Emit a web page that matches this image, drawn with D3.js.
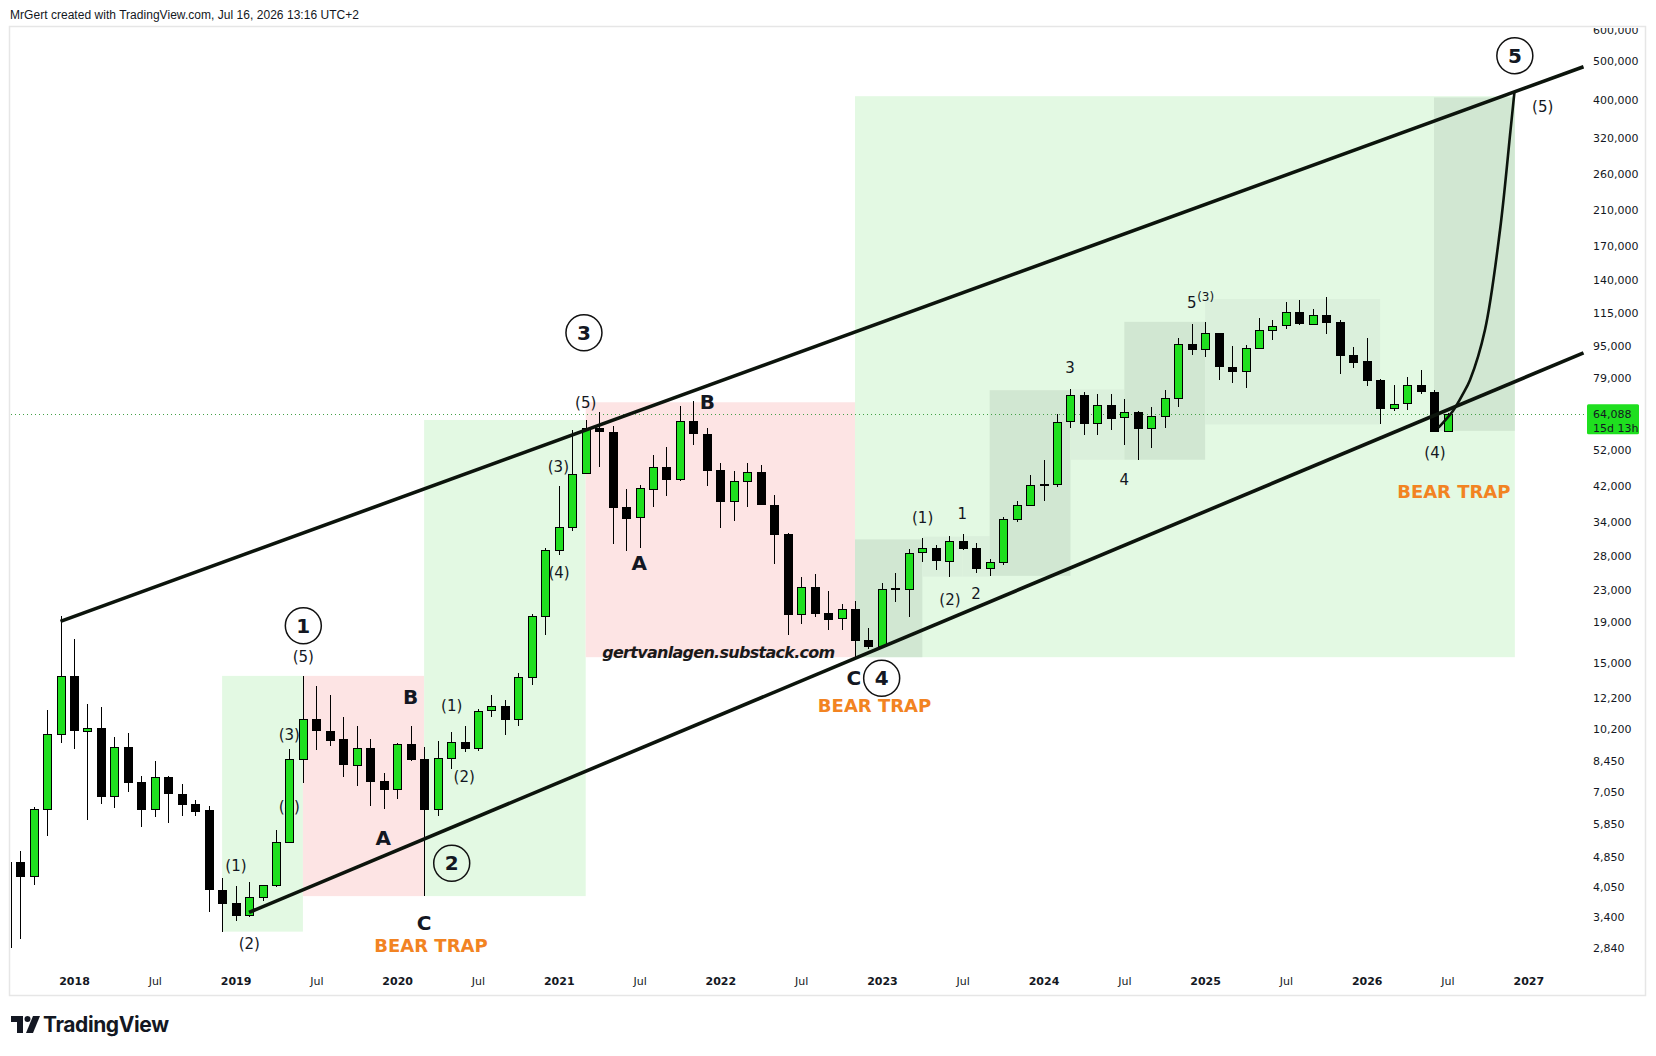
<!DOCTYPE html>
<html>
<head>
<meta charset="utf-8">
<title>BTC monthly - wave count</title>
<script src="https://cdn.jsdelivr.net/npm/d3@7"></script>
<style>
  body { margin: 0; background: #fff; }
  svg text { font-family: "DejaVu Sans", Verdana, sans-serif; fill: #131722; }
</style>
</head>
<body>
<svg id="chart" width="1656" height="1056"></svg>
<script>
// month index: 0 = Jan 2018, candles run from Aug 2017 (-5) to Jul 2026 (102)
const monthIdx = d3.range(-5, 103);

const opens = [2871, 4703, 4339, 6400, 9900,
  13850, 10100, 10250, 6900, 9200, 7500, 6400, 7700, 7000, 6600, 6350, 4000,
  3700, 3440, 3820, 4100, 5280, 8550, 10800, 10100, 9600, 8300, 9150, 7550,
  7200, 9350, 8550, 6400, 8600, 9450, 9150, 11350, 11650, 10780, 13800, 19700,
  28950, 33100, 45200, 58800, 57700, 37300, 35000, 41500, 47100, 43800, 61300, 57000,
  46200, 38500, 43200, 45500, 37700, 31800, 19900, 23300, 20050, 19400, 20500, 17150,
  16550, 23130, 23150, 28500, 29250, 27200, 30500, 29250, 26050, 26950, 34650, 37700,
  42250, 42500, 61150, 71300, 60650, 67500, 62700, 64600, 58950, 63300, 70200, 96400,
  93400, 102400, 84350, 82550, 94200, 104600, 107150, 115750, 108250, 114050, 109600, 90400,
  87000, 78100, 66500, 67900, 75600, 72800, 58100];

const highs = [4736, 5014, 6470, 11400, 19700,
  17200, 11800, 11600, 9750, 9950, 7750, 8450, 7750, 7400, 6750, 6500, 4270,
  4080, 4180, 4100, 5650, 9050, 13900, 13100, 12400, 10950, 10400, 9600, 7900,
  9400, 10350, 9200, 9500, 10050, 10400, 11450, 12450, 12050, 14100, 19900, 29300,
  41950, 58350, 61800, 64900, 59600, 41300, 42400, 50500, 52900, 67000, 69000, 59100,
  48000, 45800, 48200, 47400, 40000, 32000, 24700, 25200, 22800, 21100, 21450, 18400,
  23950, 25250, 29200, 31000, 29850, 31400, 31800, 30200, 27500, 35000, 38450, 44750,
  48950, 64000, 73800, 72800, 71950, 72000, 70000, 65100, 66500, 73600, 99800, 108300,
  109400, 102500, 95000, 95750, 111900, 110500, 123200, 124500, 117900, 126200, 110600, 94700,
  99600, 78500, 75600, 79500, 82900, 73500, 64300];

const lows = [2580, 2990, 4110, 5450, 9400,
  9100, 6000, 6600, 6450, 7050, 5750, 6100, 5900, 6150, 6150, 3500, 3130,
  3330, 3400, 3740, 4050, 5250, 7450, 9000, 9250, 7700, 7300, 6500, 6400,
  6800, 8450, 3850, 6150, 8100, 8900, 8950, 10950, 9850, 10380, 13200, 17600,
  28100, 32300, 45000, 47000, 30000, 28800, 29300, 37300, 39600, 43300, 53300, 42000,
  32900, 34300, 37200, 37600, 26700, 17600, 18800, 19600, 18150, 18200, 15500, 16300,
  16500, 21400, 19550, 26950, 25800, 24800, 28900, 25300, 24900, 26550, 34100, 37600,
  38500, 41880, 59000, 56500, 56550, 58400, 53500, 49000, 52550, 58900, 66800, 90500,
  89200, 78200, 76600, 74500, 93400, 98200, 105100, 107300, 107300, 102000, 80600, 83800,
  75300, 60200, 65000, 65600, 72000, 58000, 57900];

const closes = [4703, 4339, 6400, 9900, 13850,
  10100, 10250, 6900, 9200, 7500, 6400, 7700, 7000, 6600, 6350, 4000, 3700,
  3440, 3820, 4100, 5280, 8550, 10800, 10100, 9600, 8300, 9150, 7550, 7200,
  9350, 8550, 6400, 8600, 9450, 9150, 11350, 11650, 10780, 13800, 19700, 28950,
  33100, 45200, 58800, 57700, 37300, 35000, 41500, 47100, 43800, 61300, 57000, 46200,
  38500, 43200, 45500, 37700, 31800, 19900, 23300, 20050, 19400, 20500, 17150, 16550,
  23130, 23150, 28500, 29250, 27200, 30500, 29250, 26050, 26950, 34650, 37700, 42250,
  42500, 61150, 71300, 60650, 67500, 62700, 64600, 58950, 63300, 70200, 96400, 93400,
  102400, 84350, 82550, 94200, 104600, 107150, 115750, 108250, 114050, 109600, 90400, 87000,
  78100, 66500, 67900, 75600, 72800, 58100, 64088];

const lastPrice = 64088;
const countdown = "15d 13h";

const priceTicks = [600000, 500000, 400000, 320000, 260000, 210000, 170000, 140000, 115000,
  95000, 79000, 52000, 42000, 34000, 28000, 23000, 19000, 15000, 12200, 10200, 8450, 7050,
  5850, 4850, 4050, 3400, 2840];

const timeTicks = [0, 6, 12, 18, 24, 30, 36, 42, 48, 54, 60, 66, 72, 78, 84, 90, 96, 102, 108];
const timeLabels = ["2018", "Jul", "2019", "Jul", "2020", "Jul", "2021", "Jul", "2022", "Jul",
  "2023", "Jul", "2024", "Jul", "2025", "Jul", "2026", "Jul", "2027"];

// shaded boxes: month span and price span
const zones = [
  {t0: 11, t1: 17, lo: 3130, hi: 13900, kind: "up"},
  {t0: 17, t1: 26, lo: 3850, hi: 13900, kind: "down"},
  {t0: 26, t1: 38, lo: 3850, hi: 61800, kind: "up"},
  {t0: 38, t1: 58, lo: 15500, hi: 68500, kind: "down"},
  {t0: 58, t1: 107, lo: 15500, hi: 408000, kind: "up"},
  {t0: 58, t1: 63, lo: 15500, hi: 30800, kind: "impulse"},
  {t0: 63, t1: 66, lo: 24800, hi: 31300, kind: "correction"},
  {t0: 66, t1: 68, lo: 24800, hi: 31400, kind: "correction"},
  {t0: 68, t1: 74, lo: 24900, hi: 73500, kind: "impulse"},
  {t0: 74, t1: 78, lo: 49000, hi: 73800, kind: "correction"},
  {t0: 78, t1: 84, lo: 49000, hi: 109500, kind: "impulse"},
  {t0: 84, t1: 97, lo: 60200, hi: 125000, kind: "correction"},
  {t0: 101, t1: 107, lo: 58000, hi: 405000, kind: "impulse"}
];

const channelTop = [{t: -1, p: 19100}, {t: 112.1, p: 484500}];
const channelBottom = [{t: 13, p: 3500}, {t: 112.1, p: 91400}];

const wave5Path = [
  {t: 101.33, p: 59100}, {t: 102.4, p: 65100}, {t: 103.17, p: 72150}, {t: 103.67, p: 78000},
  {t: 104.78, p: 104400}, {t: 105.9, p: 187000}, {t: 106.68, p: 334900}, {t: 106.97, p: 418000}
];

const circled = [
  {t: 17.03, p: 18620, text: "1"},
  {t: 28.05, p: 4662, text: "2"},
  {t: 37.87, p: 102750, text: "3"},
  {t: 59.98, p: 13706, text: "4"},
  {t: 107.0, p: 516600, text: "5"}
];

const labels = [
  {t: 12.03, p: 4590, text: "(1)", kind: "sub"},
  {t: 13.02, p: 2912, text: "(2)", kind: "sub"},
  {t: 15.99, p: 9848, text: "(3)", kind: "sub"},
  {t: 15.99, p: 6485, text: "(4)", kind: "sub"},
  {t: 17.03, p: 15520, text: "(5)", kind: "sub"},
  {t: 22.97, p: 5411, text: "A", kind: "abc"},
  {t: 25.0, p: 12312, text: "B", kind: "abc"},
  {t: 25.99, p: 3287, text: "C", kind: "abc"},
  {t: 26.51, p: 2879, text: "BEAR TRAP", kind: "trap"},
  {t: 28.05, p: 11660, text: "(1)", kind: "sub"},
  {t: 28.98, p: 7696, text: "(2)", kind: "sub"},
  {t: 35.97, p: 47060, text: "(3)", kind: "sub"},
  {t: 36.02, p: 25280, text: "(4)", kind: "sub"},
  {t: 38.0, p: 68120, text: "(5)", kind: "sub"},
  {t: 41.98, p: 26790, text: "A", kind: "abc"},
  {t: 47.03, p: 68750, text: "B", kind: "abc"},
  {t: 47.88, p: 15910, text: "gertvanlagen.substack.com", kind: "site"},
  {t: 57.92, p: 13706, text: "C", kind: "abc"},
  {t: 59.45, p: 11700, text: "BEAR TRAP", kind: "trap"},
  {t: 63.02, p: 34840, text: "(1)", kind: "sub"},
  {t: 65.05, p: 21630, text: "(2)", kind: "sub"},
  {t: 65.97, p: 35720, text: "1", kind: "minor"},
  {t: 66.98, p: 22400, text: "2", kind: "minor"},
  {t: 73.97, p: 83520, text: "3", kind: "minor"},
  {t: 78.0, p: 43560, text: "4", kind: "minor"},
  {t: 83.0, p: 121960, text: "5", kind: "minor"},
  {t: 84.04, p: 126750, text: "(3)", kind: "sup"},
  {t: 101.07, p: 51060, text: "(4)", kind: "sub"},
  {t: 109.07, p: 383700, text: "(5)", kind: "sub"},
  {t: 102.47, p: 40680, text: "BEAR TRAP", kind: "trap"}
];

// ---- drawing ----
const W = 1656, H = 1056;
const plot = {left: 11, right: 1585, top: 27, bottom: 966};
const upColor = "#1fdf1f";
const zoneFill = {up: "#e3f9e3", down: "#fde4e4", impulse: "#d1e7d2", correction: "#dbf0dc"};
const labelStyle = {
  sub:   {size: 15, weight: "normal", fill: "#131722"},
  minor: {size: 15, weight: "normal", fill: "#131722"},
  sup:   {size: 12, weight: "normal", fill: "#131722"},
  abc:   {size: 20, weight: "bold", fill: "#131722"},
  trap:  {size: 18, weight: "bold", fill: "#f28322"},
  site:  {size: 16, weight: "bold", fill: "#1a1a1a"}
};

const x = d3.scaleLinear().domain([0, 108]).range([74, 1528.3]);
const y = d3.scaleLog().domain([500000, 2840]).range([61.3, 948.3]);

const svg = d3.select("#chart");
svg.append("rect").attr("width", W).attr("height", H).attr("fill", "#fff");

const defs = svg.append("defs");
defs.append("clipPath").attr("id", "plotClip").append("rect")
    .attr("x", plot.left).attr("y", plot.top)
    .attr("width", plot.right - plot.left).attr("height", plot.bottom - plot.top);
defs.append("clipPath").attr("id", "frameClip").append("rect")
    .attr("x", 10).attr("y", 28).attr("width", 1635).attr("height", 967);

// header
svg.append("text")
    .attr("x", 10).attr("y", 19)
    .attr("font-size", 12)
    .style("font-family", "'Liberation Sans', Arial, sans-serif")
    .attr("textLength", 349)
    .text("MrGert created with TradingView.com, Jul 16, 2026 13:16 UTC+2");

// frame
svg.append("rect")
    .attr("x", 9.5).attr("y", 26.5).attr("width", 1636).attr("height", 969)
    .attr("fill", "none").attr("stroke", "#e6e6e6").attr("stroke-width", 1.5);

const g = svg.append("g").attr("clip-path", "url(#plotClip)");

// boxes
g.append("g").selectAll("rect")
  .data(zones)
  .join("rect")
    .attr("x", d => x(d.t0))
    .attr("y", d => y(d.hi))
    .attr("width", d => x(d.t1) - x(d.t0))
    .attr("height", d => y(d.lo) - y(d.hi))
    .attr("fill", d => zoneFill[d.kind]);

// last price dotted line
g.append("line")
    .attr("x1", plot.left).attr("x2", plot.right)
    .attr("y1", Math.round(y(lastPrice)) + 0.5).attr("y2", Math.round(y(lastPrice)) + 0.5)
    .attr("stroke", "#43a047").attr("stroke-dasharray", "1 3");

// text labels (sit under the candles, as in the original)
g.append("g").selectAll("text")
  .data(labels)
  .join("text")
    .attr("x", d => x(d.t))
    .attr("y", d => y(d.p))
    .attr("text-anchor", "middle")
    .attr("dominant-baseline", "central")
    .attr("font-size", d => labelStyle[d.kind].size)
    .attr("font-weight", d => labelStyle[d.kind].weight)
    .attr("font-style", d => d.kind === "site" ? "italic" : null)
    .attr("textLength", d => d.kind === "site" ? 233 : null)
    .style("fill", d => labelStyle[d.kind].fill)
    .text(d => d.text);

// candles
const candles = monthIdx.map((t, i) => ({t, o: opens[i], h: highs[i], l: lows[i], c: closes[i]}));
const cx = d => Math.round(x(d.t)) + 0.5;
const cand = g.append("g")
    .attr("shape-rendering", "crispEdges")
  .selectAll("g")
  .data(candles)
  .join("g");
cand.append("line")
    .attr("x1", cx).attr("x2", cx)
    .attr("y1", d => y(d.h)).attr("y2", d => y(d.l))
    .attr("stroke", "#000");
cand.append("rect")
    .attr("x", d => cx(d) - 4)
    .attr("width", 8)
    .attr("y", d => Math.round(y(Math.max(d.o, d.c))) + 0.5)
    .attr("height", d => Math.max(1, Math.round(y(Math.min(d.o, d.c)) - y(Math.max(d.o, d.c)))))
    .attr("fill", d => d.c >= d.o ? upColor : "#000")
    .attr("stroke", "#000");

// channel and projected wave 5
const line = d3.line().x(d => x(d.t)).y(d => y(d.p));
g.append("path").attr("d", line(channelTop))
    .attr("fill", "none").attr("stroke", "#0c140c").attr("stroke-width", 3.6);
g.append("path").attr("d", line(channelBottom))
    .attr("fill", "none").attr("stroke", "#0c140c").attr("stroke-width", 3.6);
g.append("path").attr("d", line.curve(d3.curveCatmullRom.alpha(0.5))(wave5Path))
    .attr("fill", "none").attr("stroke", "#0c140c").attr("stroke-width", 2.6);

// circled wave numbers
const circ = g.append("g").selectAll("g")
  .data(circled)
  .join("g")
    .attr("transform", d => `translate(${x(d.t)},${y(d.p)})`);
circ.append("circle").attr("r", 18)
    .attr("fill", "none").attr("stroke", "#111").attr("stroke-width", 1.5);
circ.append("text")
    .attr("text-anchor", "middle").attr("dominant-baseline", "central")
    .attr("font-size", 20).attr("font-weight", "bold")
    .text(d => d.text);

// price axis
const axisLayer = svg.append("g").attr("clip-path", "url(#frameClip)");
axisLayer.append("g")
    .attr("transform", "translate(1593,0)")
    .call(d3.axisRight(y).tickValues(priceTicks).tickFormat(d3.format(",")).tickSize(0).tickPadding(0))
    .call(a => a.select(".domain").remove())
    .attr("font-size", 11)
    .attr("font-family", "DejaVu Sans, Verdana, sans-serif");

// time axis
axisLayer.append("g")
    .attr("transform", "translate(0,977)")
    .call(d3.axisBottom(x).tickValues(timeTicks).tickFormat((d, i) => timeLabels[i]).tickSize(0).tickPadding(0))
    .call(a => a.select(".domain").remove())
    .attr("font-size", 11)
    .attr("font-family", "DejaVu Sans, Verdana, sans-serif")
    .selectAll("text")
    .attr("font-weight", (d, i) => timeLabels[i] === "Jul" ? "normal" : "bold");

// last price badge
const py = y(lastPrice);
svg.append("rect")
    .attr("x", 1587).attr("y", py - 9.5).attr("width", 52).attr("height", 30)
    .attr("fill", upColor).attr("rx", 1.5);
svg.append("text").attr("x", 1593).attr("y", py + 4)
    .attr("font-size", 11).text(d3.format(",")(lastPrice));
svg.append("text").attr("x", 1593).attr("y", py + 18)
    .attr("font-size", 11).text(countdown);

// TradingView wordmark
const logo = svg.append("g").attr("transform", "translate(11,1016)");
logo.append("path").attr("d", "M0 0H12V17H6V6H0Z").attr("fill", "#131722");
logo.append("circle").attr("cx", 16.5).attr("cy", 3).attr("r", 3).attr("fill", "#131722");
logo.append("path").attr("d", "M22 0H29L22 17H15Z").attr("fill", "#131722");
logo.append("text")
    .attr("x", 32).attr("y", 16)
    .attr("font-size", 21).attr("font-weight", 700)
    .style("font-family", "Inter, 'Noto Sans', sans-serif")
    .attr("textLength", 126)
    .text("TradingView");
</script>
</body>
</html>
